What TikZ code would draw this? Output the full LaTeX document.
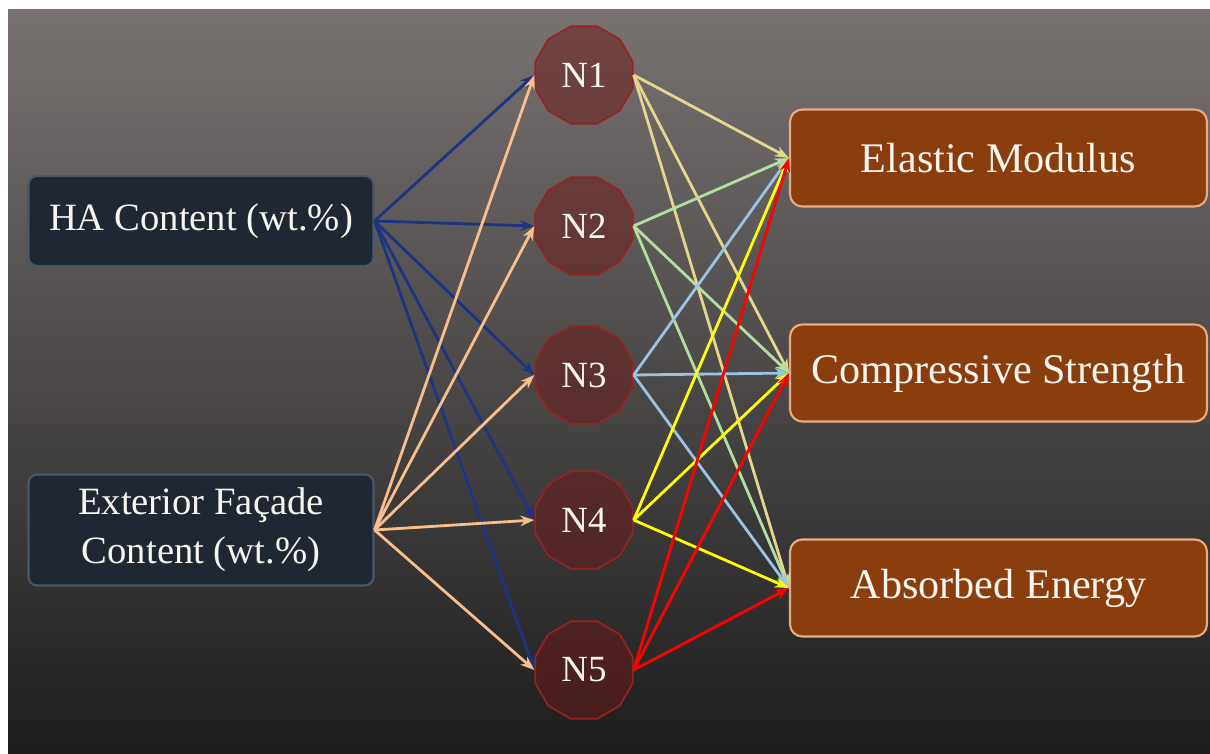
\documentclass[tikz,border=0pt]{standalone}
\usepackage{fontspec}
\setmainfont{Liberation Serif}
\usetikzlibrary{shapes.geometric,arrows.meta}
\definecolor{bgtop}{RGB}{120,114,113}
\definecolor{bgbot}{RGB}{30,30,30}
\definecolor{inbox}{RGB}{30,39,50}
\definecolor{inedge}{RGB}{72,88,104}
\definecolor{outbox}{RGB}{138,62,14}
\definecolor{outedge}{RGB}{232,172,132}
\definecolor{hidfill}{RGB}{110,25,25}
\definecolor{hidedge}{RGB}{150,35,35}
\definecolor{txt}{RGB}{248,244,238}
\definecolor{cHA}{RGB}{28,52,130}
\definecolor{cEF}{RGB}{248,190,140}
\definecolor{cNa}{RGB}{228,214,140}
\definecolor{cNb}{RGB}{180,222,160}
\definecolor{cNc}{RGB}{155,195,230}
\definecolor{cNd}{RGB}{255,255,0}
\definecolor{cNe}{RGB}{255,0,0}
\begin{document}
\begin{tikzpicture}[inp/.style={draw=inedge,line width=1.2pt,fill=inbox,rounded corners=5pt,minimum width=6.9cm,align=center,text=txt,font=\fontsize{22}{28}\selectfont},
  outp/.style={draw=outedge,line width=1.2pt,fill=outbox,rounded corners=7pt,minimum width=8.34cm,minimum height=1.94cm,text=txt,font=\fontsize{24}{28}\selectfont},
  hid/.style={regular polygon,regular polygon sides=12,draw=hidedge,line width=1pt,fill=hidfill,fill opacity=.5,text opacity=1,text=txt,minimum size=2.02cm,inner sep=0pt,font=\fontsize{21}{24}\selectfont},
  link/.style={line width=1.6pt,-{Stealth[length=8pt,width=6pt]}}]
  \useasboundingbox (0,0) rectangle (24.2,15.06);
  \shade[top color=bgtop,bottom color=bgbot] (0.16,0) rectangle (24.2,14.86);
  % inputs
  \node[inp,minimum height=1.8cm] (ha) at (4.02,10.64) {HA Content (wt.\%)};
  \node[inp,minimum height=2.22cm] (ef) at (4.02,4.46) {Exterior Façade\\Content (wt.\%)};
  % hidden layer
  \node[hid] (n1) at (11.68,13.56) {N1};
  \node[hid] (n2) at (11.68,10.54) {N2};
  \node[hid] (n3) at (11.68,7.56) {N3};
  \node[hid] (n4) at (11.68,4.66) {N4};
  \node[hid] (n5) at (11.68,1.66) {N5};
  % outputs
  \node[outp] (em) at (19.97,11.9) {Elastic Modulus};
  \node[outp] (cs) at (19.97,7.6) {Compressive Strength};
  \node[outp] (ae) at (19.97,3.3) {Absorbed Energy};
  % input -> hidden
  \draw[link,cHA] (ha.east)--(n1.west); \draw[link,cHA] (ha.east)--(n2.west);
  \draw[link,cHA] (ha.east)--(n3.west); \draw[link,cHA] (ha.east)--(n4.west);
  \draw[link,cHA] (ha.east)--(n5.west);
  \draw[link,cEF] (ef.east)--(n1.west); \draw[link,cEF] (ef.east)--(n2.west);
  \draw[link,cEF] (ef.east)--(n3.west); \draw[link,cEF] (ef.east)--(n4.west);
  \draw[link,cEF] (ef.east)--(n5.west);
  % hidden -> outputs
  \draw[link,cNa] (n1.east)--(em.west); \draw[link,cNa] (n1.east)--(cs.west);
  \draw[link,cNa] (n1.east)--(ae.west);
  \draw[link,cNb] (n2.east)--(em.west); \draw[link,cNb] (n2.east)--(cs.west);
  \draw[link,cNb] (n2.east)--(ae.west);
  \draw[link,cNc] (n3.east)--(em.west); \draw[link,cNc] (n3.east)--(cs.west);
  \draw[link,cNc] (n3.east)--(ae.west);
  \draw[link,cNd] (n4.east)--(em.west); \draw[link,cNd] (n4.east)--(cs.west);
  \draw[link,cNd] (n4.east)--(ae.west);
  \draw[link,cNe] (n5.east)--(em.west); \draw[link,cNe] (n5.east)--(cs.west);
  \draw[link,cNe] (n5.east)--(ae.west);
\end{tikzpicture}
\end{document}
